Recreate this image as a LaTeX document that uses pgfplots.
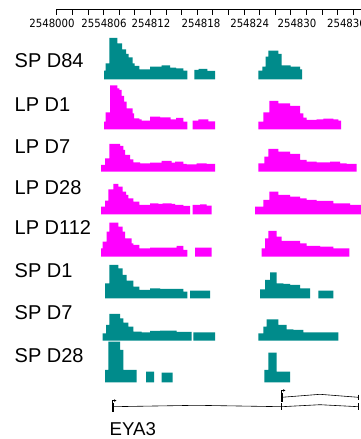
\documentclass[border=0pt]{standalone}
\usepackage{pgfplots}
\pgfplotsset{compat=1.18}
\usetikzlibrary{arrows.meta}
\usepackage{fontspec}
\setmainfont{Liberation Sans}
\newfontfamily\rulerfont{DejaVu Sans Condensed}
\definecolor{tealc}{RGB}{0,139,139}
\definecolor{magc}{RGB}{255,0,255}
\pgfplotsset{
  trk/.style={width=261pt, height=50pt, scale only axis, xmin=100, xmax=361,
    ymin=0, ymax=50, hide axis, clip=false, anchor=south west},
  tl/.style={const plot, fill=tealc, draw=none},
  mg/.style={const plot, fill=magc, draw=none},
}
\tikzset{lab/.style={anchor=west, inner sep=0pt, font=\fontsize{20}{22}\selectfont}}
\begin{document}
\begin{tikzpicture}
\useasboundingbox (0,0) rectangle (361pt,439pt);
% main axis in pixel coordinates: labels and gene model
\begin{axis}[at={(0pt,0pt)}, anchor=south west, width=361pt, height=439pt,
  scale only axis, xmin=0, xmax=361, ymin=0, ymax=439, y dir=reverse,
  hide axis, clip=false]
\node[lab] at (axis cs:14.5,60.5) {SP D84};
\node[lab] at (axis cs:14.5,105) {LP D1};
\node[lab] at (axis cs:14.5,146.2) {LP D7};
\node[lab] at (axis cs:14.5,187.5) {LP D28};
\node[lab] at (axis cs:14.5,227.5) {LP D112};
\node[lab] at (axis cs:14.5,270.5) {SP D1};
\node[lab] at (axis cs:14.5,313) {SP D7};
\node[lab] at (axis cs:14.5,355.5) {SP D28};
\node[anchor=base west, font=\fontsize{18.6}{20}\selectfont, inner sep=0pt] at (axis cs:109.5,435) {EYA3};
% lower transcript
\addplot[black, line width=0.6pt] coordinates {(112.7,406.7)(196.7,405.3)(281.7,406.7)(320,404.7)(358.3,406.7)};
\addplot[black, line width=1.6pt] coordinates {(112.7,402.7)(112.7,411.7)};
\addplot[black, line width=0.6pt] coordinates {(281.7,403.3)(281.7,410.3)};
\addplot[black, line width=0.6pt] coordinates {(358.3,403.3)(358.3,410.3)};
\addplot[black, line width=0.6pt, -{Stealth[length=2.5pt,width=2.5pt]}] coordinates {(112.7,402.7)(112.7,400.6)(116.5,400.6)};
% upper transcript
\addplot[black, line width=0.6pt] coordinates {(281.7,397.3)(320,394.3)(358.3,397.3)};
\addplot[black, line width=1.6pt] coordinates {(281.7,392.7)(281.7,401.7)};
\addplot[black, line width=0.6pt] coordinates {(358.3,394.7)(358.3,400.3)};
\addplot[black, line width=0.6pt, -{Stealth[length=2.5pt,width=2.5pt]}] coordinates {(281.7,392.7)(281.7,390.4)(285.5,390.4)};
\end{axis}
% ruler
\begin{axis}[at={(30pt,429.5pt)}, anchor=south west, width=331pt, height=2pt,
  scale only axis, xmin=30, xmax=361, ymin=0, ymax=1,
  axis x line=bottom, axis y line=none, x axis line style={draw=none},
  xtick={56.7,72.3,87.9,103.5,119.1,134.7,150.3,165.9,181.5,197.1,212.7,228.3,243.9,259.5,275.1,290.7,306.3,321.9,337.5,353.1},
  xticklabels={}, xtick align=outside, major tick length=5.5pt,
  tick style={black, line width=0.6pt},
  extra x ticks={52,104,151,201,249.7,297,346.5},
  extra x tick labels={2548000,2554806,254812,254818,254824,254830,254836},
  extra x tick style={major tick length=0pt, tick label style={yshift=-6pt}},
  ticklabel style={font=\rulerfont\fontsize{11.3}{13}\selectfont},
  clip=false]
\addplot[black, line width=0.7pt] coordinates {(56.7,0)(361,0)};
\end{axis}
% SP D84
\begin{axis}[trk, at={(100pt,359.7pt)}]
\addplot[tl] coordinates {(104,8.7)(105.7,16)(109.3,41.3)(117.3,36)(122,30)(126,25.3)(128.7,22)(132.7,16)(134.7,13.3)(139.3,10)(150,12.7)(161.7,14)(170,11.7)(176,11)(183.3,8.7)(187.3,8.7)} \closedcycle;
\addplot[tl] coordinates {(194.3,9.3)(198.7,10.3)(207.3,8.3)(215,8.3)} \closedcycle;
\addplot[tl] coordinates {(258.3,8.7)(262.3,12.7)(265.7,22.7)(268.3,28.7)(278.3,25.3)(281.7,14)(290.7,12.7)(300,10)(302,10)} \closedcycle;
\end{axis}
% LP D1
\begin{axis}[trk, at={(100pt,309.7pt)}]
\addplot[mg] coordinates {(104,7.7)(105.7,17)(110,44)(117.3,41)(119.3,39.3)(121.7,33.3)(124,27.7)(126.7,21)(132.7,16)(134,11)(139.3,10)(141.7,8.7)(150,12.7)(160,12)(170.7,10)(176,11.3)(183.3,7.7)(187.3,7.7)} \closedcycle;
\addplot[mg] coordinates {(192.7,8.7)(198.3,10)(208.3,8)(215,8)} \closedcycle;
\addplot[mg] coordinates {(258.3,7.7)(263.3,17)(269.3,28.3)(278.3,26)(290,23.3)(300,16)(303.3,11.7)(306.7,9.3)(316.7,10)(323.3,10.7)(333.3,10)(338.3,8.7)(341,8.7)} \closedcycle;
\end{axis}
% LP D7
\begin{axis}[trk, at={(100pt,267.3pt)}]
\addplot[mg] coordinates {(101,6.7)(105,13.3)(109.3,27.7)(120,25.7)(123.3,21.7)(125,16.7)(130,12.3)(133.3,9.3)(140,8.3)(150,9)(161.7,10.7)(171.7,9)(175,10)(183.3,7.7)(186.7,7.3)(196.7,8.3)(206.7,7.7)(215,7.7)} \closedcycle;
\addplot[mg] coordinates {(258.3,8.3)(264.3,15)(268.3,22.7)(278.3,20)(290,17.7)(300,11.7)(306.7,10)(316.7,9.3)(330,10)(340,8.3)(346.7,7.7)(356.7,7.7)} \closedcycle;
\end{axis}
% LP D28
\begin{axis}[trk, at={(100pt,224.7pt)}]
\addplot[mg] coordinates {(101,7.7)(105,13.7)(108.3,25)(113.3,30.3)(118.3,27.7)(122.7,22.7)(126,19.3)(128.3,16)(133.3,12.7)(139.3,9.3)(150,11)(158.3,10.3)(162.7,11)(171.7,10.3)(175,9.3)(183.3,8.3)(190,8.3)} \closedcycle;
\addplot[mg] coordinates {(192.7,9.3)(200,10)(206.7,8.7)(211.7,8.7)} \closedcycle;
\addplot[mg] coordinates {(255,7.7)(263.3,14.3)(269.3,22.7)(278.3,19.3)(290,17.7)(300,16)(306.7,14.3)(316.7,13.3)(333.3,11)(350,9.3)(361,9.3)} \closedcycle;
\end{axis}
% LP D112
\begin{axis}[trk, at={(100pt,182.3pt)}]
\addplot[mg] coordinates {(101,8.3)(102.7,15)(106.7,25)(109.3,34)(118.3,30)(122.7,25)(125,18.3)(131.7,13.3)(133.3,11.7)(139.3,8.3)(150,9)(176.7,10.7)(183.3,6.7)(187.3,6.7)} \closedcycle;
\addplot[mg] coordinates {(195,9)(211.7,9)} \closedcycle;
\addplot[mg] coordinates {(261.7,8.3)(265,18.3)(268.3,25.7)(276.7,20)(281.7,15.7)(300,13.3)(306.7,10.7)(320,10)(333.3,8.3)(349.3,8.3)} \closedcycle;
\end{axis}
% SP D1
\begin{axis}[trk, at={(100pt,140.7pt)}]
\addplot[tl] coordinates {(105,15)(109.3,33.3)(118.3,30)(122.7,23.3)(126.7,17.7)(133.3,11.7)(139.3,8.3)(150,10)(160,9.3)(183.3,6.7)(187.3,6.7)} \closedcycle;
\addplot[tl] coordinates {(190,7.7)(210,7.7)} \closedcycle;
\addplot[tl] coordinates {(260,9)(265,18.3)(270,26)(276.7,15)(283.3,14.3)(290,13.3)(300,10)(310,10)} \closedcycle;
\addplot[tl] coordinates {(318.3,7.7)(333.3,7.7)} \closedcycle;
\end{axis}
% SP D7
\begin{axis}[trk, at={(100pt,98.3pt)}]
\addplot[tl] coordinates {(102.7,7.3)(106,15.7)(109.3,26.7)(120,22.3)(123.3,18)(128.3,14)(133.3,9)(141.7,8.3)(150,9.7)(160,10)(176.7,8.7)(191.7,8.7)} \closedcycle;
\addplot[tl] coordinates {(193.3,8.3)(215,8.3)} \closedcycle;
\addplot[tl] coordinates {(258.3,7.3)(263.3,14)(266.7,21.3)(278.3,15.7)(286.7,11.3)(293.3,10.7)(303.3,8.3)(338.3,8.3)} \closedcycle;
\end{axis}
% SP D28
\begin{axis}[trk, at={(100pt,56.7pt)}]
\addplot[tl] coordinates {(105,12.3)(108.3,40.7)(120,32.3)(123.3,12.3)(136.7,12.3)} \closedcycle;
\addplot[tl] coordinates {(146,10.7)(154,10.7)} \closedcycle;
\addplot[tl] coordinates {(161.7,9.7)(172.7,9.7)} \closedcycle;
\addplot[tl] coordinates {(264.3,12.3)(268.3,29.7)(276.7,10.7)(290,10.7)} \closedcycle;
\end{axis}
\end{tikzpicture}
\end{document}
